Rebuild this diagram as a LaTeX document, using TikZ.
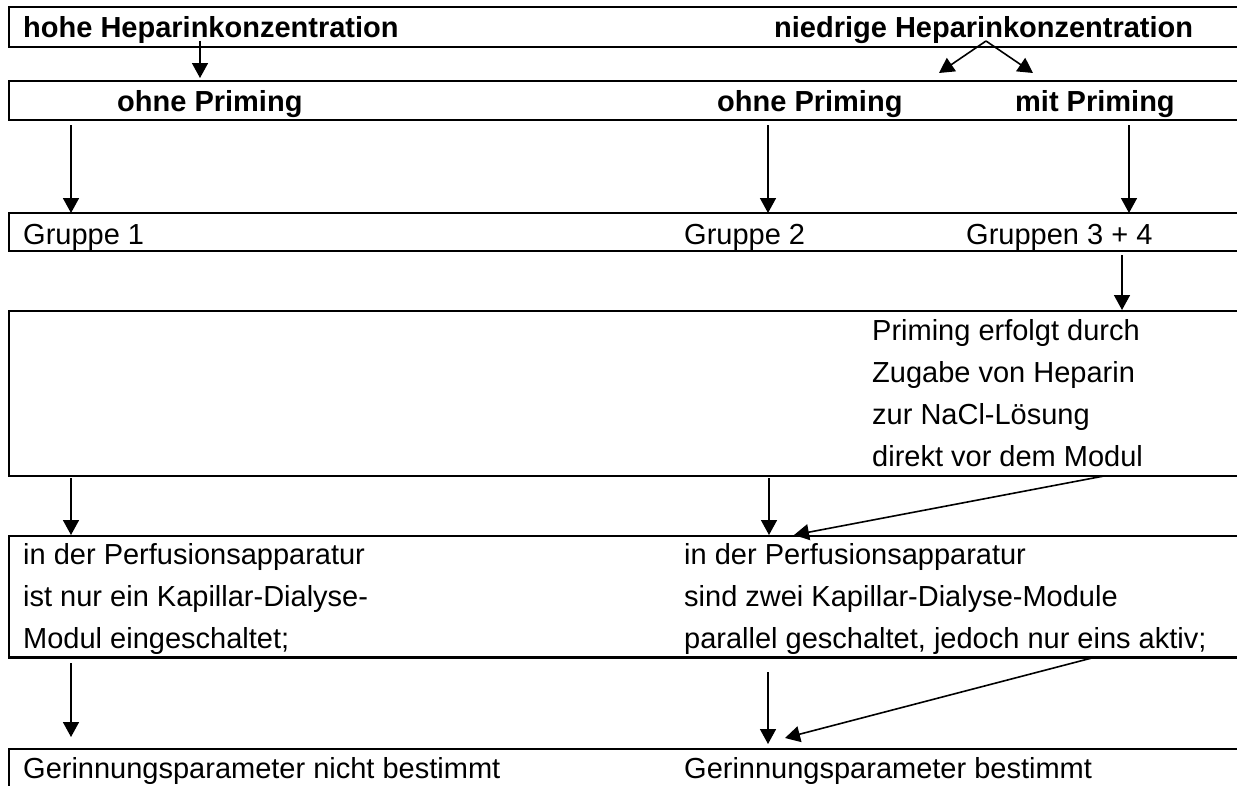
\documentclass[tikz,border=0pt]{standalone}
\usepackage{fontspec}
\setmainfont{Liberation Sans}
\usetikzlibrary{arrows.meta}
\begin{document}
\begin{tikzpicture}[x=1pt,y=-1pt,
  box/.style={line width=2.2pt},
  conn/.style={line width=1.6pt,-{Triangle[length=15pt,width=16pt]}},
  txt/.style={anchor=base west,inner sep=0pt,font=\fontsize{29}{35}\selectfont},
  btxt/.style={anchor=base west,inner sep=0pt,font=\fontsize{29}{35}\selectfont\bfseries}]
\useasboundingbox (0,0) rectangle (1237,785);
\fill[white] (0,0) rectangle (1237,785);
\clip (0,0) rectangle (1237,785);
% table rows
\draw[box] (8.7,7.3) rectangle (1260,47.3);
\draw[box] (8.7,80.7) rectangle (1260,120);
\draw[box] (8.7,213.3) rectangle (1260,251);
\draw[box] (8.7,310.7) rectangle (1260,475.7);
\draw[box] (8.7,535.7) rectangle (1260,657.5);
\draw[box] (8.7,749) rectangle (1260,800);
% texts
\node[btxt] (t1a) at (23,37.7) {hohe Heparinkonzentration};
\node[btxt] (t1b) at (774,37.7) {niedrige Heparinkonzentration};
\node[btxt] (t2a) at (117,111) {ohne Priming};
\node[btxt] (t2b) at (717,111) {ohne Priming};
\node[btxt] (t2c) at (1015,111) {mit Priming};
\node[txt] (t3a) at (23,244) {Gruppe 1};
\node[txt] (t3b) at (684,244) {Gruppe 2};
\node[txt] (t3c) at (966,244) {Gruppen 3 + 4};
\node[txt] (t4a) at (872,340) {Priming erfolgt durch};
\node[txt] (t4b) at (872,382) {Zugabe von Heparin};
\node[txt] (t4c) at (872,424) {zur NaCl-Lösung};
\node[txt] (t4d) at (872,466) {direkt vor dem Modul};
\node[txt] (t5a) at (23,564.3) {in der Perfusionsapparatur};
\node[txt] (t5b) at (23,606.3) {ist nur ein Kapillar-Dialyse-};
\node[txt] (t5c) at (23,648.3) {Modul eingeschaltet;};
\node[txt] (t5d) at (684,564.3) {in der Perfusionsapparatur};
\node[txt] (t5e) at (684,606.3) {sind zwei Kapillar-Dialyse-Module};
\node[txt] (t5f) at (684,648.3) {parallel geschaltet, jedoch nur eins aktiv;};
\node[txt] (t6a) at (23,778) {Gerinnungsparameter nicht bestimmt};
\node[txt] (t6b) at (684,778) {Gerinnungsparameter bestimmt};
% connector end points
\coordinate (a1s) at (200,40.7);  \coordinate (a1e) at (200,78);
\coordinate (fk)  at (986,41);    \coordinate (fkl) at (939,73);  \coordinate (fkr) at (1033,73);
\coordinate (b1s) at (71,125);    \coordinate (b1e) at (71,213);
\coordinate (b2s) at (768,125);   \coordinate (b2e) at (768,213);
\coordinate (b3s) at (1129,125);  \coordinate (b3e) at (1129,213);
\coordinate (c1s) at (1122,255);  \coordinate (c1e) at (1122,310);
\coordinate (d1s) at (71,478);    \coordinate (d1e) at (71,535);
\coordinate (d2s) at (769,478);   \coordinate (d2e) at (769,535);
\coordinate (d3s) at (1104,476);  \coordinate (d3e) at (794,535);
\coordinate (e1s) at (71,663);    \coordinate (e1e) at (71,737);
\coordinate (e2s) at (768,672);   \coordinate (e2e) at (768,744);
\coordinate (e3s) at (1093,657.7);\coordinate (e3e) at (785,738);
% connectors
\draw[conn] (a1s) -- (a1e);
\draw[conn] (fk) -- (fkl);
\draw[conn] (fk) -- (fkr);
\draw[conn] (b1s) -- (b1e);
\draw[conn] (b2s) -- (b2e);
\draw[conn] (b3s) -- (b3e);
\draw[conn] (c1s) -- (c1e);
\draw[conn] (d1s) -- (d1e);
\draw[conn] (d2s) -- (d2e);
\draw[conn] (d3s) -- (d3e);
\draw[conn] (e1s) -- (e1e);
\draw[conn] (e2s) -- (e2e);
\draw[conn] (e3s) -- (e3e);
\end{tikzpicture}
\end{document}
